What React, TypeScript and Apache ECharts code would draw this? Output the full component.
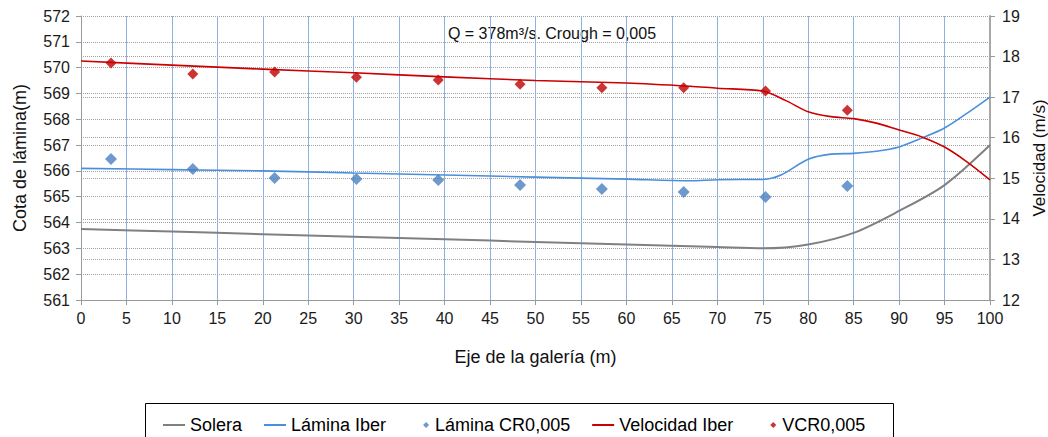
import React, { useEffect, useRef } from "react";
import * as echarts from "echarts";

const xTicksInterval = 5;

const soleraX = [0, 10, 20, 30, 40, 50, 60, 70, 75, 80, 85, 90, 95, 100];
const soleraY = [563.75, 563.65, 563.55, 563.45, 563.35, 563.25, 563.15, 563.05, 563.0, 563.15, 563.6, 564.45, 565.45, 567.0];

const laminaIberX = [0, 10, 20, 30, 40, 50, 60, 67, 70, 75, 77, 80, 82.5, 85, 87.5, 90, 92.5, 95, 97.5, 100];
const laminaIberY = [566.1, 566.05, 566.0, 565.92, 565.84, 565.76, 565.68, 565.62, 565.66, 565.67, 565.84, 566.45, 566.65, 566.68, 566.76, 566.93, 567.27, 567.66, 568.24, 568.86];

const crX = [3.3, 12.3, 21.3, 30.3, 39.3, 48.3, 57.3, 66.3, 75.3, 84.3];
const laminaCRY = [566.46, 566.07, 565.73, 565.69, 565.65, 565.45, 565.3, 565.18, 564.99, 565.42];

const velIberX = [0, 10, 20, 30, 40, 50, 60, 67, 70, 75, 77.5, 80, 82.5, 85, 87.5, 90, 92.5, 95, 97.5, 100];
const velIberY = [17.89, 17.79, 17.69, 17.6, 17.5, 17.41, 17.35, 17.27, 17.22, 17.15, 16.92, 16.64, 16.52, 16.47, 16.36, 16.19, 16.02, 15.77, 15.4, 14.96];

const vcrY = [17.84, 17.57, 17.62, 17.49, 17.42, 17.32, 17.23, 17.23, 17.15, 16.68];

const legendNames = ["Solera", "Lámina Iber", "Lámina CR0,005", "Velocidad Iber", "VCR0,005"];

const zip = (xs: number[], ys: number[]) => xs.map((x, i) => [x, ys[i]]);

const FONT = "'Liberation Sans', Arial, Helvetica, sans-serif";
const diamondIcon = "path://M0,0 M22,14 M18,4 L21,7 L18,10 L15,7 Z";
const lineIcon = "path://M0,0 M22,14 M0,6 L22,6 L22,8 L0,8 Z";

export default function App() {
  const ref = useRef<HTMLDivElement>(null);
  useEffect(() => {
    if (!ref.current) return;
    const chart = echarts.init(ref.current, undefined, { renderer: "svg" });
    const gridDotted = { show: true, lineStyle: { color: "#a0a0a0", type: "dotted" as const, width: 1 } };
    chart.setOption({
      animation: false,
      backgroundColor: "#ffffff",
      textStyle: { fontFamily: FONT },
      grid: { left: 81, right: 58, top: 16, bottom: 137, containLabel: false, outerBoundsMode: "none" },
      xAxis: {
        type: "value",
        min: 0,
        max: 100,
        interval: xTicksInterval,
        name: "Eje de la galería (m)",
        nameLocation: "middle",
        nameGap: 48,
        nameTextStyle: { fontSize: 18, color: "#111", fontFamily: FONT },
        axisLine: { show: true, lineStyle: { color: "#9a9a9a", width: 1 } },
        axisTick: { show: true, length: 5, lineStyle: { color: "#9a9a9a" } },
        axisLabel: { fontSize: 16, color: "#1a1a1a", margin: 10, fontFamily: FONT },
        splitLine: { show: true, lineStyle: { color: "#8fb1e2", width: 1 } },
      },
      yAxis: [
        {
          type: "value",
          min: 561,
          max: 572,
          interval: 1,
          name: "Cota de lámina(m)",
          nameLocation: "middle",
          nameGap: 52,
          nameTextStyle: { fontSize: 18, color: "#111", fontFamily: FONT },
          axisLine: { show: true, lineStyle: { color: "#9a9a9a", width: 1 } },
          axisTick: { show: true, length: 5, lineStyle: { color: "#9a9a9a" } },
          axisLabel: { fontSize: 16, color: "#1a1a1a", margin: 11, fontFamily: FONT },
          splitLine: gridDotted,
        },
        {
          type: "value",
          min: 12,
          max: 19,
          interval: 1,
          position: "right",
          name: "Velocidad (m/s)",
          nameLocation: "middle",
          nameGap: 36,
          nameTextStyle: { fontSize: 17, color: "#111", fontFamily: FONT },
          axisLine: { show: true, lineStyle: { color: "#a8a8a8", width: 2 } },
          axisTick: { show: true, length: 5, lineStyle: { color: "#9a9a9a" } },
          axisLabel: { fontSize: 16, color: "#1a1a1a", margin: 12, fontFamily: FONT },
          splitLine: gridDotted,
        },
      ],
      legend: {
        left: 158,
        top: 411,
        itemWidth: 22,
        itemHeight: 14,
        itemGap: 22,
        textStyle: { fontSize: 18, color: "#000", fontFamily: FONT },
        data: [
          { name: legendNames[0], icon: lineIcon },
          { name: legendNames[1], icon: lineIcon },
          { name: legendNames[2], icon: diamondIcon },
          { name: legendNames[3], icon: lineIcon },
          { name: legendNames[4], icon: diamondIcon },
        ],
      },
      graphic: [
        {
          type: "rect",
          shape: { x: 145.5, y: 403.5, width: 748, height: 40 },
          style: { fill: "none", stroke: "#000", lineWidth: 1 },
          silent: true,
        },
        {
          type: "text",
          x: 552,
          y: 33,
          style: {
            text: "Q = 378m³/s. Crough = 0,005",
            fontSize: 16,
            fontFamily: FONT,
            fill: "#111",
            align: "center",
            verticalAlign: "middle",
          },
        },
      ],
      series: [
        {
          name: legendNames[0],
          type: "line",
          yAxisIndex: 0,
          data: zip(soleraX, soleraY),
          smooth: 0.3,
          symbol: "none",
          lineStyle: { color: "#808080", width: 2 },
          itemStyle: { color: "#808080" },
          z: 3,
        },
        {
          name: legendNames[1],
          type: "line",
          yAxisIndex: 0,
          data: zip(laminaIberX, laminaIberY),
          smooth: 0.3,
          symbol: "none",
          lineStyle: { color: "#4a8fdc", width: 1.6 },
          itemStyle: { color: "#4a8fdc" },
          z: 3,
        },
        {
          name: legendNames[2],
          type: "scatter",
          yAxisIndex: 0,
          data: zip(crX, laminaCRY),
          symbol: "diamond",
          symbolSize: 12,
          itemStyle: { color: "#4a7fc1" },
          z: 4,
        },
        {
          name: legendNames[3],
          type: "line",
          yAxisIndex: 1,
          data: zip(velIberX, velIberY),
          smooth: 0.3,
          symbol: "none",
          lineStyle: { color: "#cc0000", width: 1.6 },
          itemStyle: { color: "#cc0000" },
          z: 3,
        },
        {
          name: legendNames[4],
          type: "scatter",
          yAxisIndex: 1,
          data: zip(crX, vcrY),
          symbol: "diamond",
          symbolSize: 11,
          itemStyle: { color: "#c00000" },
          z: 4,
        },
      ],
    });
    return () => chart.dispose();
  }, []);
  return (
    <div
      ref={ref}
      style={{ position: "fixed", left: 0, top: 0, width: 1048, height: 437, background: "#fff" }}
    />
  );
}
